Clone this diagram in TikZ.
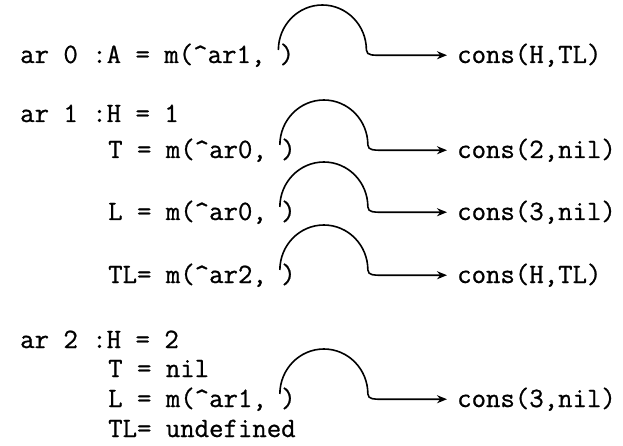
\documentclass[tikz,border=0pt]{standalone}
\usepackage{fontspec}
\newfontfamily\codefont{Latin Modern Mono}[FakeBold=0.8]
\usepackage{tikz}
\usetikzlibrary{calc,arrows.meta}

\tikzset{
  code/.style={anchor=base west,inner sep=0pt,font=\codefont\fontsize{28}{32}\selectfont},
  hook/.style={line width=1.6pt,-{Stealth[length=10pt,width=8pt]},shorten >=10pt},
}

\begin{document}
\begin{tikzpicture}[x=1pt,y=-1pt]
  \useasboundingbox (0,0) rectangle (623,446);

  % activation record 0
  \node[code] (t0) at (20,63) {ar 0 :A = m(\textasciicircum ar1, )};
  \node[code] (c0) at (457,63) {cons(H,TL)};

  % activation record 1
  \node[code] (h1) at (20,122) {ar 1 :H = 1};
  \node[code] (t1) at (108,158) {T = m(\textasciicircum ar0, )};
  \node[code] (c1) at (457,158) {cons(2,nil)};
  \node[code] (t2) at (108,220) {L = m(\textasciicircum ar0, )};
  \node[code] (c2) at (457,220) {cons(3,nil)};
  \node[code] (t3) at (108,283) {TL= m(\textasciicircum ar2, )};
  \node[code] (c3) at (457,283) {cons(H,TL)};

  % activation record 2
  \node[code] (h2) at (20,348) {ar 2 :H = 2};
  \node[code] (n2) at (108,377) {T = nil};
  \node[code] (t4) at (108,407) {L = m(\textasciicircum ar1, )};
  \node[code] (c4) at (457,407) {cons(3,nil)};
  \node[code] (u2) at (108,437) {TL= undefined};

  % results flow out of the empty slot
  \foreach \i in {0,...,4} {
    \coordinate (s\i) at ($(t\i.base east)+(-16,-13)$);
    \draw[hook] (s\i) arc[start angle=180,end angle=0,x radius=44pt,y radius=45pt]
      to[out=-90,in=180] ([xshift=-76pt]c\i.west) -- (c\i.west);
  }
\end{tikzpicture}
\end{document}
